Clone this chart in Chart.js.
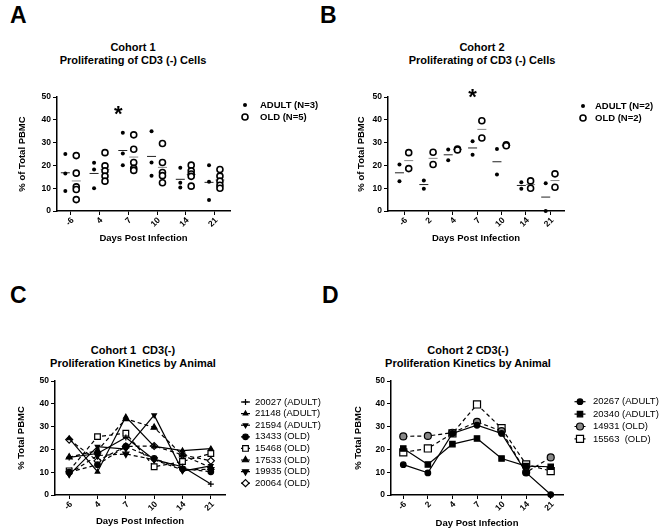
<!DOCTYPE html>
<html>
<head>
<meta charset="utf-8">
<script src="https://cdn.jsdelivr.net/npm/chart.js@4.4.1/dist/chart.umd.min.js"></script>
<style>
  body { margin: 0; background: #fff; width: 661px; height: 532px; position: relative; overflow: hidden;
         font-family: "Liberation Sans", Arial, sans-serif; }
  canvas { position: absolute; }
  .letter { position: absolute; font-weight: bold; font-size: 23px; line-height: 23px; }
  .title { position: absolute; width: 240px; text-align: center; font-weight: bold; font-size: 11px;
           line-height: 12.5px; white-space: pre; }
</style>
</head>
<body>
<div class="letter" style="left:10px;top:4px">A</div>
<div class="letter" style="left:320px;top:4px">B</div>
<div class="letter" style="left:10px;top:284px">C</div>
<div class="letter" style="left:322px;top:284px">D</div>

<div class="title" style="left:13px;top:41px">Cohort 1
Proliferating of CD3 (-) Cells</div>
<div class="title" style="left:362px;top:41px">Cohort 2
Proliferating of CD3 (-) Cells</div>
<div class="title" style="left:13px;top:344px">Cohort 1  CD3(-)
Proliferation Kinetics by Animal</div>
<div class="title" style="left:348px;top:344px">Cohort 2 CD3(-)
Proliferation Kinetics by Animal</div>

<canvas id="cA" width="330" height="170" style="left:0;top:80px"></canvas>
<canvas id="cB" width="331" height="170" style="left:330px;top:80px"></canvas>
<canvas id="cC" width="330" height="167" style="left:0;top:365px"></canvas>
<canvas id="cD" width="331" height="167" style="left:330px;top:365px"></canvas>

<script>
const FONT = '"Liberation Sans", Arial, sans-serif';

// cohort 1 (panels A and C)
const days1 = ['-6', '4', '7', '10', '14', '21'];
const adult1 = [[25.0, 16.5, 8.8], [21.2, 18.2, 10.0], [34.3, 25.2, 20.1],
                [35.0, 21.3, 15.5], [19.0, 12.4, 10.3], [20.1, 12.8, 4.8]];
const old1 = [[24.3, 16.6, 10.6, 9.4, 5.0], [25.6, 19.8, 17.6, 15.3, 13.1], [33.4, 27.1, 21.3, 18.7, 17.8],
              [29.6, 21.3, 16.9, 15.5, 12.4], [20.1, 17.6, 16.2, 15.2, 10.9], [18.2, 15.3, 13.1, 11.3, 10.0]];
const animals1 = ['20027 (ADULT)', '21148 (ADULT)', '21594 (ADULT)', '13433 (OLD)',
                  '15468 (OLD)', '17533 (OLD)', '19935 (OLD)', '20064 (OLD)'];
const kinetics1 = [
  [16.5, 18.2, 25.2, 15.5, 12.4, 4.8],
  [24.8, 10.2, 34.3, 21.3, 19.5, 20.3],
  [8.8, 21.2, 20.1, 35.0, 10.5, 12.8],
  [10.0, 13.3, 21.3, 16.0, 11.5, 10.2],
  [10.6, 25.6, 27.1, 12.4, 14.7, 18.2],
  [16.6, 19.5, 33.4, 29.6, 17.5, 12.0],
  [9.4, 17.3, 18.0, 15.5, 11.0, 11.3],
  [24.3, 15.0, 21.3, 21.5, 17.6, 15.0]
];

// cohort 2 (panels B and D)
const days2 = ['-6', '2', '4', '7', '10', '14', '21'];
const adult2 = [[20.4, 13.1], [13.4, 9.8], [27.0, 22.3], [30.6, 24.7], [27.2, 16.0], [12.6, 9.8], [12.2, 0.0]];
const old2 = [[25.6, 18.6], [25.8, 20.4], [27.2, 26.8], [39.6, 32.0], [29.0, 28.6], [13.2, 10.0], [16.3, 10.4]];
const animals2 = ['20267 (ADULT)', '20340 (ADULT)', '14931 (OLD)', '15563  (OLD)'];
const kinetics2 = [
  [13.3, 9.7, 27.0, 30.6, 27.0, 9.8, 0.2],
  [20.4, 13.4, 22.3, 24.8, 16.0, 12.7, 12.4],
  [25.7, 25.9, 27.3, 32.1, 28.0, 9.9, 16.5],
  [18.7, 20.4, 27.0, 39.7, 29.3, 13.4, 10.5]
];

const sigDay1 = '7';
const sigDay2 = '7';

// marker styles for the per-animal lines
const styles1 = [
  {shape: 'cross', r: 3, fill: '#000', dash: []},
  {shape: 'triangle', r: 2.6, fill: '#000', dash: []},
  {shape: 'triangle', rot: 180, r: 2.6, fill: '#000', dash: []},
  {shape: 'circle', r: 2.8, fill: '#000', dash: [4, 3]},
  {shape: 'rect', r: 4, fill: '#fff', dash: [4, 3]},
  {shape: 'triangle', r: 3.5, fill: '#000', dash: [4, 3]},
  {shape: 'triangle', rot: 180, r: 3.5, fill: '#000', dash: [4, 3]},
  {shape: 'rectRot', r: 3.5, fill: '#fff', dash: [4, 3]}
];
const styles2 = [
  {shape: 'circle', r: 2.8, fill: '#000', dash: []},
  {shape: 'rect', r: 3.8, fill: '#000', dash: []},
  {shape: 'circle', r: 3.5, fill: '#888', dash: [4, 3]},
  {shape: 'rect', r: 5, fill: '#fff', dash: [4, 3]}
];

Chart.defaults.font.family = FONT;
Chart.defaults.color = '#000';
Chart.defaults.animation = false;

// legend at the right, slanted day labels and the significance star
const panelDecor = {
  id: 'panelDecor',
  afterDraw(chart, args, o) {
    const ctx = chart.ctx, area = chart.chartArea, xs = chart.scales.x;
    ctx.save();
    if (o.xLabels) {
      ctx.font = 'bold 8.5px ' + FONT;
      ctx.fillStyle = '#000';
      ctx.textAlign = 'right';
      ctx.textBaseline = 'middle';
      xs.ticks.forEach((t, i) => {
        ctx.save();
        ctx.translate(xs.getPixelForTick(i) + 2, area.bottom + 8);
        ctx.rotate(-Math.PI / 4);
        ctx.fillText(o.xLabels[i], 0, 0);
        ctx.restore();
      });
    }
    if (o.legend) {
      const L = o.legend;
      let k = 0;
      chart.data.datasets.forEach(ds => {
        if (!ds.label) return;
        const x = area.right + L.x, y = area.top + L.y + k * L.step;
        k++;
        if (L.half) {
          ctx.strokeStyle = ds.borderColor;
          ctx.lineWidth = ds.borderWidth;
          ctx.setLineDash(ds.borderDash || []);
          ctx.beginPath();
          ctx.moveTo(x - L.half, y);
          ctx.lineTo(x + L.half, y);
          ctx.stroke();
          ctx.setLineDash([]);
        }
        ctx.fillStyle = ds.pointBackgroundColor;
        ctx.strokeStyle = ds.pointBorderColor;
        ctx.lineWidth = ds.pointBorderWidth || 1;
        Chart.helpers.drawPoint(ctx, {
          pointStyle: ds.pointStyle, rotation: ds.pointRotation || 0,
          radius: ds.pointRadius, borderWidth: ds.pointBorderWidth
        }, x, y);
        ctx.fillStyle = '#000';
        ctx.font = L.font;
        ctx.textAlign = 'left';
        ctx.textBaseline = 'middle';
        ctx.fillText(ds.label, area.right + L.text, y);
      });
    }
    if (o.star) {
      const sx = xs.getPixelForValue(o.star.x);
      const sy = chart.scales.y.getPixelForValue(o.star.y);
      ctx.font = 'bold 22px ' + FONT;
      ctx.fillStyle = '#000';
      ctx.textAlign = 'center';
      ctx.textBaseline = 'middle';
      ctx.fillText('*', sx, sy);
    }
    ctx.restore();
  }
};

function axes(p) {
  return {
    x: Object.assign({
      grid: {drawOnChartArea: false, color: '#000', tickLength: 4},
      border: {color: '#000', width: 1.5},
      ticks: {display: false, autoSkip: false},
      title: {display: true, text: p.xTitle, color: '#000', font: {size: 9.5, weight: 'bold'},
              padding: {top: 0, bottom: p.xTitlePad}},
      afterFit: s => { s.height = p.xHeight; }
    }, p.x),
    y: {
      min: 0, max: 50,
      grid: {drawOnChartArea: false, color: '#000', tickLength: 4},
      border: {color: '#000', width: 1.5},
      ticks: {stepSize: 10, color: '#000', font: {size: 8.5, weight: 'bold'}, padding: 2},
      title: {display: true, text: p.yTitle, color: '#000', font: {size: 9.5, weight: 'bold'},
              padding: {top: p.yTitlePad, bottom: 0}},
      afterFit: s => { s.width = p.yWidth; }
    }
  };
}

function groupPoints(groups, shift) {
  const pts = [];
  groups.forEach((vals, i) => vals.forEach(v => pts.push({x: i + shift, y: v})));
  return pts;
}
function meanPoints(groups, shift) {
  return groups.map((vals, i) => ({x: i + shift, y: vals.reduce((a, b) => a + b, 0) / vals.length}));
}

function scatterPanel(id, days, adult, old, names, p) {
  const sh = 0.19;
  new Chart(document.getElementById(id), {
    type: 'scatter',
    data: {
      datasets: [
        {label: names[0], data: groupPoints(adult, -sh), pointStyle: 'circle', pointRadius: 2,
         pointBackgroundColor: '#000', pointBorderColor: '#000', pointBorderWidth: 0, clip: false},
        {label: names[1], data: groupPoints(old, sh), pointStyle: 'circle', pointRadius: 3,
         pointBackgroundColor: '#fff', pointBorderColor: '#000', pointBorderWidth: 1.6, clip: false},
        {data: meanPoints(adult, -sh), pointStyle: 'line', pointRadius: 4.5,
         pointBorderColor: '#222', pointBorderWidth: 1, clip: false},
        {data: meanPoints(old, sh), pointStyle: 'line', pointRadius: 4.5,
         pointBorderColor: '#888', pointBorderWidth: 1, clip: false}
      ]
    },
    options: {
      responsive: false, devicePixelRatio: 1, events: [],
      layout: {padding: p.pad},
      plugins: {legend: {display: false}, tooltip: {enabled: false},
                panelDecor: {xLabels: days, legend: p.legend,
                             star: {x: days.indexOf(p.sig) + p.starShift, y: p.starY}}},
      scales: axes({
        x: {type: 'linear', bounds: 'data', min: p.xMin, max: p.xMax,
            afterBuildTicks: s => { s.ticks = days.map((d, i) => ({value: i})); }},
        xTitle: 'Days Post Infection', xTitlePad: p.xTitlePad, xHeight: p.xHeight,
        yTitle: '% of Total PBMC', yTitlePad: p.yTitlePad, yWidth: p.yWidth
      })
    },
    plugins: [panelDecor]
  });
}

function kineticsPanel(id, days, animals, values, styles, p) {
  new Chart(document.getElementById(id), {
    type: 'line',
    data: {
      labels: days,
      datasets: animals.map((name, i) => ({
        label: name, data: values[i], borderColor: '#000', borderWidth: 1.2, borderDash: styles[i].dash,
        tension: 0, fill: false, clip: false,
        pointStyle: styles[i].shape, pointRotation: styles[i].rot || 0, pointRadius: styles[i].r,
        pointBackgroundColor: styles[i].fill, pointBorderColor: '#000', pointBorderWidth: 1.2
      }))
    },
    options: {
      responsive: false, devicePixelRatio: 1, events: [],
      layout: {padding: p.pad},
      plugins: {legend: {display: false}, tooltip: {enabled: false},
                panelDecor: {xLabels: days, legend: p.legend}},
      scales: axes({
        x: {type: 'category', offset: true},
        xTitle: p.xTitle, xTitlePad: p.xTitlePad, xHeight: p.xHeight,
        yTitle: '% Total PBMC', yTitlePad: p.yTitlePad, yWidth: p.yWidth
      })
    },
    plugins: [panelDecor]
  });
}

scatterPanel('cA', days1, adult1, old1, ['ADULT (N=3)', 'OLD (N=5)'], {
  pad: {left: 0, top: 17, right: 100, bottom: 0}, yWidth: 57, xHeight: 39, yTitlePad: 17, xTitlePad: 6.3,
  xMin: -0.48, xMax: 5.54, sig: sigDay1, starShift: -0.35, starY: 42,
  legend: {x: 15, text: 30, y: 8, step: 12, font: 'bold 9.5px ' + FONT}
});

scatterPanel('cB', days2, adult2, old2, ['ADULT (N=2)', 'OLD (N=2)'], {
  pad: {left: 0, top: 17, right: 97, bottom: 0}, yWidth: 58, xHeight: 39, yTitlePad: 26, xTitlePad: 6.3,
  xMin: -0.66, xMax: 6.56, sig: sigDay2, starShift: -0.19, starY: 49.7,
  legend: {x: 19, text: 31, y: 9, step: 12, font: 'bold 9.5px ' + FONT}
});

kineticsPanel('cC', days1, animals1, kinetics1, styles1, {
  pad: {left: 0, top: 16, right: 105, bottom: 0}, yWidth: 55, xHeight: 37, yTitlePad: 16, xTitlePad: 4.6,
  xTitle: 'Days Post Infection',
  legend: {x: 20.5, half: 4.5, text: 30, y: 21, step: 11.6, font: '9.5px ' + FONT}
});

kineticsPanel('cD', days2, animals2, kinetics2, styles2, {
  pad: {left: 0, top: 16, right: 98, bottom: 0}, yWidth: 61, xHeight: 37, yTitlePad: 22.6, xTitlePad: 3,
  xTitle: 'Day Post Infection',
  legend: {x: 17, half: 5.5, text: 30, y: 20.7, step: 12.4, font: '9.5px ' + FONT}
});
</script>
</body>
</html>
